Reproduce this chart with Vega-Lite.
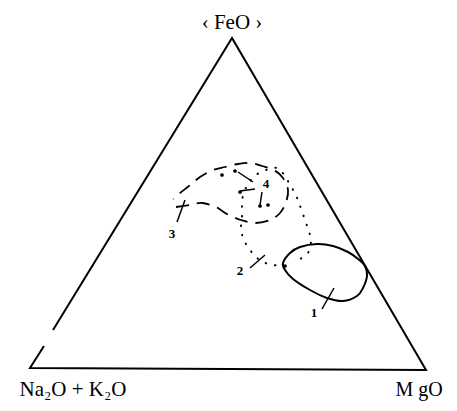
{
  "$schema": "https://vega.github.io/schema/vega-lite/v6.json",
  "width": 457,
  "height": 411,
  "autosize": {"type": "fit", "contains": "padding"},
  "padding": 0,
  "background": "white",
  "config": {"view": {"stroke": null}},
  "datasets": {
    "tri": [
      {"o": 1, "x": 23, "y": 38},
      {"o": 2, "x": 202, "y": 330},
      {"o": 3, "x": 396, "y": -2},
      {"o": 4, "x": 0, "y": 0},
      {"o": 5, "x": 14, "y": 22}
    ],
    "c1": [
      {"o": 1, "x": 253, "y": 105},
      {"o": 2, "x": 260, "y": 115},
      {"o": 3, "x": 270, "y": 121},
      {"o": 4, "x": 287, "y": 124},
      {"o": 5, "x": 303, "y": 122},
      {"o": 6, "x": 318, "y": 116},
      {"o": 7, "x": 328, "y": 109},
      {"o": 8, "x": 335, "y": 102},
      {"o": 9, "x": 337, "y": 92},
      {"o": 10, "x": 333, "y": 80},
      {"o": 11, "x": 327, "y": 72},
      {"o": 12, "x": 313, "y": 67},
      {"o": 13, "x": 297, "y": 70},
      {"o": 14, "x": 280, "y": 78},
      {"o": 15, "x": 263, "y": 89},
      {"o": 16, "x": 255, "y": 98}
    ],
    "c2": [
      {"o": 1, "x": 255, "y": 102},
      {"o": 2, "x": 243, "y": 103},
      {"o": 3, "x": 233, "y": 106},
      {"o": 4, "x": 225, "y": 112},
      {"o": 5, "x": 218, "y": 121},
      {"o": 6, "x": 213, "y": 130},
      {"o": 7, "x": 211, "y": 141},
      {"o": 8, "x": 212, "y": 152},
      {"o": 9, "x": 212, "y": 163},
      {"o": 10, "x": 213, "y": 172},
      {"o": 11, "x": 218, "y": 184},
      {"o": 12, "x": 226, "y": 193},
      {"o": 13, "x": 236, "y": 198},
      {"o": 14, "x": 247, "y": 200},
      {"o": 15, "x": 255, "y": 192},
      {"o": 16, "x": 260, "y": 183},
      {"o": 17, "x": 265, "y": 175},
      {"o": 18, "x": 269, "y": 165},
      {"o": 19, "x": 274, "y": 151},
      {"o": 20, "x": 278, "y": 139},
      {"o": 21, "x": 281, "y": 128},
      {"o": 22, "x": 278, "y": 115},
      {"o": 23, "x": 268, "y": 108}
    ],
    "c3": [
      {"o": 1, "x": 146, "y": 161},
      {"o": 2, "x": 160, "y": 163},
      {"o": 3, "x": 172, "y": 165},
      {"o": 4, "x": 186, "y": 161},
      {"o": 5, "x": 197, "y": 154},
      {"o": 6, "x": 211, "y": 148},
      {"o": 7, "x": 225, "y": 145},
      {"o": 8, "x": 240, "y": 148},
      {"o": 9, "x": 250, "y": 155},
      {"o": 10, "x": 256, "y": 166},
      {"o": 11, "x": 258, "y": 178},
      {"o": 12, "x": 253, "y": 190},
      {"o": 13, "x": 244, "y": 198},
      {"o": 14, "x": 232, "y": 202},
      {"o": 15, "x": 220, "y": 205},
      {"o": 16, "x": 208, "y": 204},
      {"o": 17, "x": 195, "y": 201},
      {"o": 18, "x": 183, "y": 198},
      {"o": 19, "x": 170, "y": 191},
      {"o": 20, "x": 159, "y": 182},
      {"o": 21, "x": 150, "y": 175},
      {"o": 22, "x": 143, "y": 169}
    ],
    "ticks": [
      {"seg": "t1", "o": 1, "x": 292, "y": 59},
      {"seg": "t1", "o": 2, "x": 304, "y": 80},
      {"seg": "t2", "o": 1, "x": 220, "y": 100},
      {"seg": "t2", "o": 2, "x": 235, "y": 113},
      {"seg": "t3", "o": 1, "x": 147, "y": 146},
      {"seg": "t3", "o": 2, "x": 155, "y": 168},
      {"seg": "t4a", "o": 1, "x": 208, "y": 196},
      {"seg": "t4a", "o": 2, "x": 223, "y": 186},
      {"seg": "t4b", "o": 1, "x": 210, "y": 177},
      {"seg": "t4b", "o": 2, "x": 225, "y": 179},
      {"seg": "t4c", "o": 1, "x": 232, "y": 176},
      {"seg": "t4c", "o": 2, "x": 230, "y": 163}
    ],
    "pts": [
      {"x": 192, "y": 193},
      {"x": 205, "y": 197},
      {"x": 210, "y": 176},
      {"x": 230, "y": 162},
      {"x": 238, "y": 163},
      {"x": 255, "y": 102}
    ],
    "nums": [
      {"x": 284, "y": 55, "t": "1"},
      {"x": 210, "y": 97, "t": "2"},
      {"x": 142, "y": 134, "t": "3"},
      {"x": 236, "y": 184, "t": "4"}
    ],
    "labels": [
      {"x": 202, "y": 345, "t": "‹ FeO ›", "w": "bold", "s": 21},
      {"x": 43, "y": -22, "t": "Na₂O + K₂O", "w": "normal", "s": 21},
      {"x": 389, "y": -22, "t": "M gO", "w": "normal", "s": 20}
    ]
  },
  "layer": [
    {
      "data": {"name": "tri"},
      "mark": {"type": "line", "color": "black", "strokeWidth": 2, "strokeJoin": "miter"},
      "encoding": {
        "x": {"field": "x", "type": "quantitative", "scale": {"domain": [-30, 427], "nice": false, "zero": false}, "axis": null},
        "y": {"field": "y", "type": "quantitative", "scale": {"domain": [-43, 368], "nice": false, "zero": false}, "axis": null},
        "order": {"field": "o"}
      }
    },
    {
      "data": {"name": "c1"},
      "mark": {"type": "line", "color": "black", "strokeWidth": 2, "interpolate": "cardinal-closed"},
      "encoding": {
        "x": {"field": "x", "type": "quantitative"},
        "y": {"field": "y", "type": "quantitative"},
        "order": {"field": "o"}
      }
    },
    {
      "data": {"name": "c2"},
      "mark": {"type": "line", "color": "black", "strokeWidth": 2, "strokeDash": [0.5, 9], "strokeCap": "round", "interpolate": "cardinal"},
      "encoding": {
        "x": {"field": "x", "type": "quantitative"},
        "y": {"field": "y", "type": "quantitative"},
        "order": {"field": "o"}
      }
    },
    {
      "data": {"name": "c3"},
      "mark": {"type": "line", "color": "black", "strokeWidth": 1.8, "strokeDash": [13, 8], "interpolate": "cardinal"},
      "encoding": {
        "x": {"field": "x", "type": "quantitative"},
        "y": {"field": "y", "type": "quantitative"},
        "order": {"field": "o"}
      }
    },
    {
      "data": {"name": "ticks"},
      "mark": {"type": "line", "color": "black", "strokeWidth": 1.5},
      "encoding": {
        "x": {"field": "x", "type": "quantitative"},
        "y": {"field": "y", "type": "quantitative"},
        "detail": {"field": "seg"},
        "order": {"field": "o"}
      }
    },
    {
      "data": {"name": "pts"},
      "mark": {"type": "circle", "color": "black", "opacity": 1, "size": 14},
      "encoding": {
        "x": {"field": "x", "type": "quantitative"},
        "y": {"field": "y", "type": "quantitative"}
      }
    },
    {
      "data": {"name": "nums"},
      "mark": {"type": "text", "font": "Liberation Serif", "fontSize": 13, "fontWeight": "bold", "color": "black"},
      "encoding": {
        "x": {"field": "x", "type": "quantitative"},
        "y": {"field": "y", "type": "quantitative"},
        "text": {"field": "t"}
      }
    },
    {
      "data": {"name": "labels"},
      "mark": {"type": "text", "font": "Liberation Serif", "color": "black", "baseline": "middle"},
      "encoding": {
        "x": {"field": "x", "type": "quantitative"},
        "y": {"field": "y", "type": "quantitative"},
        "text": {"field": "t"},
        "size": {"field": "s", "type": "quantitative", "scale": null, "legend": null},
        "fontWeight": {"field": "w", "type": "nominal", "scale": null, "legend": null}
      }
    }
  ]
}
